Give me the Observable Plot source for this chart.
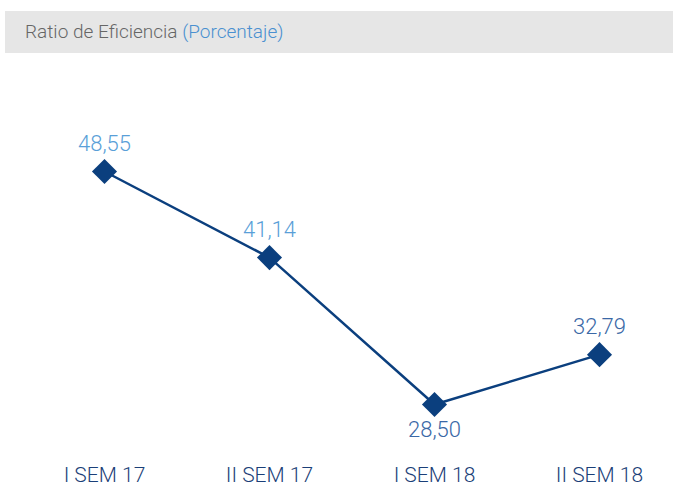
<!DOCTYPE html>
<html>
<head>
<meta charset="utf-8">
<script src="https://cdn.jsdelivr.net/npm/d3@7"></script>
<script src="https://cdn.jsdelivr.net/npm/@observablehq/plot@0.6"></script>
<style>
  body { margin: 0; background: #fff; font-family: Roboto, "Noto Sans", sans-serif; }
  #title { margin: 11px 0 0 5px; width: 648px; height: 42px; line-height: 42px; background: #e6e6e6;
    padding-left: 20px; font-size: 19px; color: #666; font-weight: 300; }
  #title span { color: #4a90d0; }
  #chart svg { display: block; }
</style>
</head>
<body>
<div id="title">Ratio de Eficiencia <span>(Porcentaje)</span></div>
<div id="chart"></div>
<script>
const categories = ["I SEM 17", "II SEM 17", "I SEM 18", "II SEM 18"];
const values = [48.55, 41.14, 28.50, 32.79];
const labels = ["48,55", "41,14", "28,50", "32,79"];
const labelAbove = [true, true, false, true];
const labelTone = ["light", "light", "dark", "dark"];

const data = categories.map((c, i) => ({cat: c, v: values[i], label: labels[i], above: labelAbove[i], tone: labelTone[i]}));
const navy = "#0b3f7e";

const chart = Plot.plot({
  width: 673,
  height: 442,
  marginTop: 0, marginBottom: 38, marginLeft: 0, marginRight: 0,
  style: {fontFamily: "Roboto, 'Noto Sans', sans-serif", background: "transparent"},
  x: {type: "point", domain: categories, range: [103, 600], padding: 0},
  y: {domain: [28.5, 48.55], range: [351, 118], axis: null},
  marks: [
    Plot.axisX({tickSize: 0, tickPadding: 10, fontSize: 21, fill: "#1b3f78", label: null, fontWeight: 300}),
    Plot.line(data, {x: "cat", y: "v", stroke: navy, strokeWidth: 2.5}),
    Plot.dot(data, {x: "cat", y: "v", symbol: "diamond2", r: 11.3, fill: navy, stroke: "none"}),
    Plot.text(data.filter(d => d.above), {x: "cat", y: "v", text: "label", dy: -28, fontSize: 22, fontWeight: 300,
      fill: d => d.tone === "light" ? "#5a9fd8" : "#3a68a6"}),
    Plot.text(data.filter(d => !d.above), {x: "cat", y: "v", text: "label", dy: 25, fontSize: 22, fontWeight: 300,
      fill: d => d.tone === "light" ? "#5a9fd8" : "#3a68a6"})
  ]
});
document.getElementById("chart").appendChild(chart);
</script>
</body>
</html>
